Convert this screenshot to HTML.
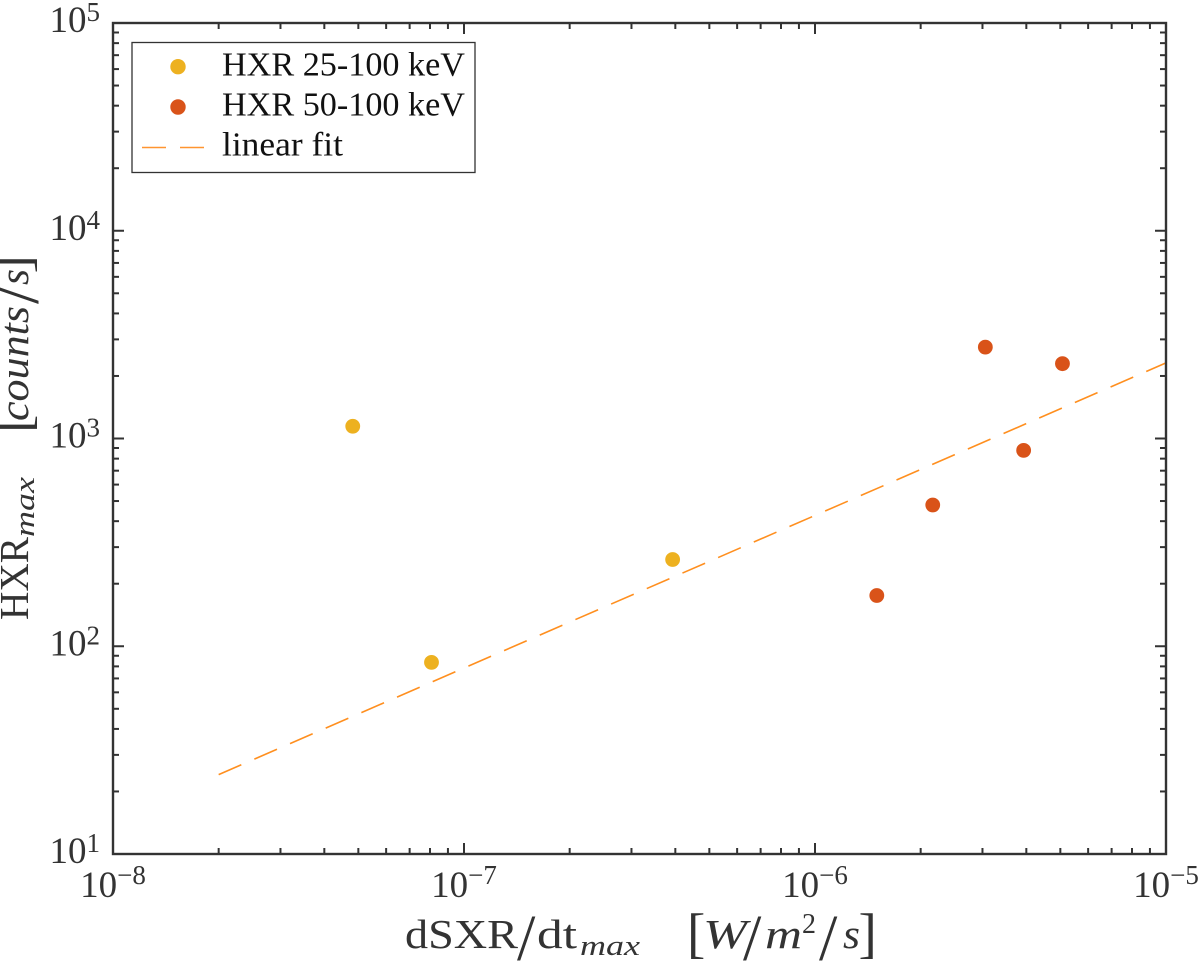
<!DOCTYPE html>
<html lang="en">
<head>
<meta charset="utf-8">
<title>HXR vs dSXR/dt</title>
<style>
html,body{margin:0;padding:0;background:#fff;}
svg{display:block;font-family:"Liberation Serif",serif;}
</style>
</head>
<body>
<svg id="chart" width="1200" height="961" viewBox="0 0 1200 961" xmlns="http://www.w3.org/2000/svg">
  <rect x="0" y="0" width="1200" height="961" fill="#fff"/>
  <g id="ticks"></g>
  <g id="fit"></g>
  <g id="points"></g>
  <rect x="113" y="23" width="1053" height="831" fill="none" stroke="#333" stroke-width="2.4"/>
  <g id="tick-labels" fill="#333"></g>

  <g fill="#333">
    <text x="405" y="948" font-size="41" textLength="113" lengthAdjust="spacingAndGlyphs">dSXR</text>
    <text x="517" y="960" font-size="66">/</text>
    <text x="537" y="948" font-size="41" textLength="40" lengthAdjust="spacingAndGlyphs">dt</text>
    <text x="580" y="955" font-size="28" font-style="italic" textLength="60" lengthAdjust="spacingAndGlyphs">max</text>
    <text x="687" y="951.5" font-size="55">[</text>
    <text x="703" y="948" font-size="41" font-style="italic" textLength="44" lengthAdjust="spacingAndGlyphs">W</text>
    <text x="743" y="960" font-size="66">/</text>
    <text x="765" y="948" font-size="41" font-style="italic" textLength="37" lengthAdjust="spacingAndGlyphs">m</text>
    <text x="802" y="933" font-size="28">2</text>
    <text x="819" y="960" font-size="66">/</text>
    <text x="843" y="948" font-size="41" font-style="italic" textLength="17" lengthAdjust="spacingAndGlyphs">s</text>
    <text x="858.5" y="951.5" font-size="55">]</text>
  </g>

  <g fill="#333" transform="translate(28,620) rotate(-90)">
    <text x="0" y="0" font-size="41" textLength="83" lengthAdjust="spacingAndGlyphs">HXR</text>
    <text x="83" y="6" font-size="28" font-style="italic" textLength="60" lengthAdjust="spacingAndGlyphs">max</text>
    <text x="187" y="1.5" font-size="55">[</text>
    <text x="199" y="0" font-size="41" font-style="italic" textLength="115" lengthAdjust="spacingAndGlyphs">counts</text>
    <text x="316" y="10" font-size="66">/</text>
    <text x="335" y="0" font-size="41" font-style="italic" textLength="16" lengthAdjust="spacingAndGlyphs">s</text>
    <text x="346.5" y="1.5" font-size="55">]</text>
  </g>

  <g>
    <rect x="132" y="42.5" width="343" height="130" fill="#fff" stroke="#333" stroke-width="1.3"/>
    <circle cx="178" cy="66.7" r="7.7" fill="#edb120"/>
    <circle cx="178" cy="107" r="7.7" fill="#d95319"/>
    <line x1="142" y1="147.5" x2="205" y2="147.5" stroke="#ff9530" stroke-width="1.6" stroke-dasharray="24 14"/>
    <text x="222" y="75.3" font-size="34" fill="#111" textLength="243" lengthAdjust="spacingAndGlyphs">HXR 25-100 keV</text>
    <text x="222" y="115.7" font-size="34" fill="#111" textLength="243" lengthAdjust="spacingAndGlyphs">HXR 50-100 keV</text>
    <text x="222" y="155.3" font-size="34" fill="#111" textLength="121" lengthAdjust="spacingAndGlyphs">linear fit</text>
  </g>
</svg>

<script>
var xTickExponents = [-8, -7, -6, -5];
var yTickExponents = [1, 2, 3, 4, 5];
var minorMultipliers = [2, 3, 4, 5, 6, 7, 8, 9];
var series25X = [4.82e-8, 8.08e-8, 3.93e-7];
var series25Y = [1145, 83.6, 261.5];
var series50X = [1.5e-6, 2.165e-6, 3.057e-6, 3.93e-6, 5.07e-6];
var series50Y = [175.5, 478.7, 2754, 877, 2292];
var fitX = [2e-8, 1e-5];
var fitY = [24.1, 2312];

var NS = 'http://www.w3.org/2000/svg';
var PLOT = {left: 113, right: 1166, top: 23, bottom: 854};
var X_MIN = -8, X_MAX = -5, Y_MIN = 1, Y_MAX = 5;

function xScale(v) {
  return PLOT.left + (Math.log10(v) - X_MIN) / (X_MAX - X_MIN) * (PLOT.right - PLOT.left);
}
function yScale(v) {
  return PLOT.bottom - (Math.log10(v) - Y_MIN) / (Y_MAX - Y_MIN) * (PLOT.bottom - PLOT.top);
}
function tickLine(parent, x1, y1, x2, y2) {
  var l = document.createElementNS(NS, 'line');
  l.setAttribute('x1', x1);
  l.setAttribute('y1', y1);
  l.setAttribute('x2', x2);
  l.setAttribute('y2', y2);
  l.setAttribute('stroke', '#333');
  l.setAttribute('stroke-width', '2');
  
  
  parent.appendChild(l);
}
function xTicks(parent, v, len) {
  var x = xScale(v);
  tickLine(parent, x, PLOT.bottom, x, PLOT.bottom - len);
  tickLine(parent, x, PLOT.top, x, PLOT.top + len);
}
function yTicks(parent, v, len) {
  var y = yScale(v);
  tickLine(parent, PLOT.left, y, PLOT.left + len, y);
  tickLine(parent, PLOT.right, y, PLOT.right - len, y);
}
function tickLabel(parent, x, y, anchor, exp, supDy) {
  var t = document.createElementNS(NS, 'text');
  t.setAttribute('x', x);
  t.setAttribute('y', y);
  t.setAttribute('text-anchor', anchor);
  t.setAttribute('font-size', '37');
  
  
  var base = document.createElementNS(NS, 'tspan');
  base.textContent = '10';
  t.appendChild(base);
  var sup = document.createElementNS(NS, 'tspan');
  sup.setAttribute('font-size', '27');
  sup.setAttribute('dy', supDy);
  sup.textContent = String(exp).replace('-', '\u2212');
  t.appendChild(sup);
  parent.appendChild(t);
}
function drawPoints(parent, xs, ys, color, name) {
  xs.forEach(function (xv, i) {
    var c = document.createElementNS(NS, 'circle');
    c.setAttribute('cx', xScale(xv));
    c.setAttribute('cy', yScale(ys[i]));
    c.setAttribute('r', '7.4');
    c.setAttribute('fill', color);
    
    
    parent.appendChild(c);
  });
}

var tickGroup = document.getElementById('ticks');
var labelGroup = document.getElementById('tick-labels');

xTickExponents.forEach(function (e, i) {
  xTicks(tickGroup, Math.pow(10, e), 11);
  if (i < xTickExponents.length - 1) {
    minorMultipliers.forEach(function (m) { xTicks(tickGroup, m * Math.pow(10, e), 6); });
  }
  tickLabel(labelGroup, xScale(Math.pow(10, e)), 897, 'middle', e, -13);
});
yTickExponents.forEach(function (e, i) {
  yTicks(tickGroup, Math.pow(10, e), 11);
  if (i < yTickExponents.length - 1) {
    minorMultipliers.forEach(function (m) { yTicks(tickGroup, m * Math.pow(10, e), 6); });
  }
  tickLabel(labelGroup, 100, yScale(Math.pow(10, e)) + 9, 'end', e, -11);
});

var fitLine = document.createElementNS(NS, 'line');
fitLine.setAttribute('x1', xScale(fitX[0]));
fitLine.setAttribute('y1', yScale(fitY[0]));
fitLine.setAttribute('x2', xScale(fitX[1]));
fitLine.setAttribute('y2', yScale(fitY[1]));
fitLine.setAttribute('stroke', '#ff8f1f');
fitLine.setAttribute('stroke-width', '1.6');
fitLine.setAttribute('stroke-dasharray', '24.7 14.2');


document.getElementById('fit').appendChild(fitLine);

var pointGroup = document.getElementById('points');
drawPoints(pointGroup, series25X, series25Y, '#edb120', 'point-hxr-25-100');
drawPoints(pointGroup, series50X, series50Y, '#d95319', 'point-hxr-50-100');
</script>
</body>
</html>
